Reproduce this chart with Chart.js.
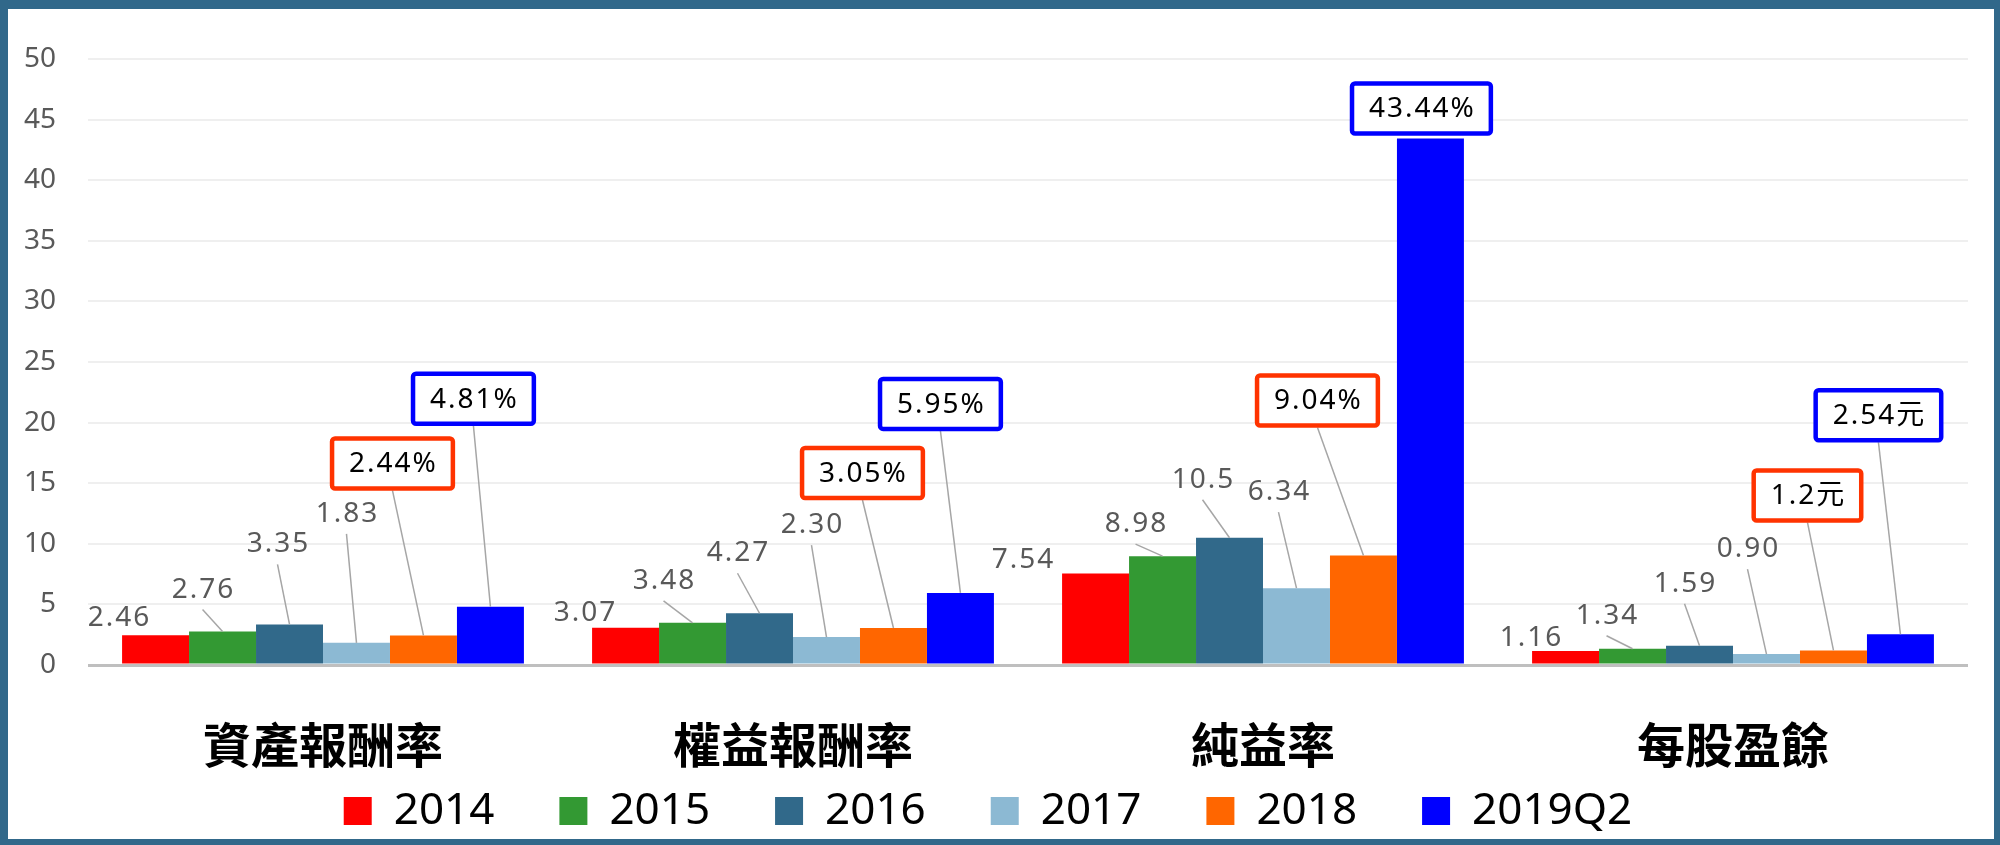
<!DOCTYPE html>
<html>
<head>
<meta charset="utf-8">
<script src="https://cdn.jsdelivr.net/npm/chart.js@4.4.1/dist/chart.umd.min.js"></script>
<style>
  html, body { margin: 0; padding: 0; background: #fff; }
  .frame {
    width: 2000px;
    height: 845px;
    box-sizing: border-box;
    border-style: solid;
    border-color: #31688a;
    border-width: 9px 6px 6px 8px;
  }
  .chart { position: relative; width: 1986px; height: 830px; }
</style>
</head>
<body>
<div class="frame"><div class="chart"><canvas id="chart"></canvas></div></div>
<script>
// Data
const categories = ["資產報酬率", "權益報酬率", "純益率", "每股盈餘"];
const years = ["2014", "2015", "2016", "2017", "2018", "2019Q2"];
const values2014 = [2.46, 3.07, 7.54, 1.16];
const values2015 = [2.76, 3.48, 8.98, 1.34];
const values2016 = [3.35, 4.27, 10.5, 1.59];
const values2017 = [1.83, 2.30, 6.34, 0.90];
const values2018 = [2.44, 3.05, 9.04, 1.2];
const values2019Q2 = [4.81, 5.95, 43.44, 2.54];

// Label texts shown above the bars
const text2014 = ["2.46", "3.07", "7.54", "1.16"];
const text2015 = ["2.76", "3.48", "8.98", "1.34"];
const text2016 = ["3.35", "4.27", "10.5", "1.59"];
const text2017 = ["1.83", "2.30", "6.34", "0.90"];
const text2018 = ["2.44%", "3.05%", "9.04%", "1.2元"];
const text2019Q2 = ["4.81%", "5.95%", "43.44%", "2.54元"];

// Y axis
const yMin = 0;
const yMax = 50;
const yStep = 5;

// Style
const colors = ["#ff0000", "#339933", "#31698a", "#8cb9d3", "#ff6600", "#0000ff"];
const boxColors = [null, null, null, null, "#ff3300", "#0000ff"];
const numFont = '"Noto Sans", "Noto Sans CJK TC", sans-serif';

// where each label sits, relative to the top of its bar (px)
const labelOffsets = [
    [[-37, -18], [-41, -16], [-73, -15], [-35, -14]],
    [[-20, -43], [-29, -43], [-27, -33], [-26, -34]],
    [[-12, -81], [-22, -61], [-27, -59], [-15, -63]],
    [[-10, -130], [-15, -113], [-18, -97], [-19, -106]],
    [[-31, -172], [-31, -155], [-46, -155], [-26, -155]],
    [[-17, -208], [-20, -189], [-9, -30], [-22, -219]]
];

const seriesValues = [values2014, values2015, values2016, values2017, values2018, values2019Q2];
const seriesText = [text2014, text2015, text2016, text2017, text2018, text2019Q2];

// Plugin: value labels with leader lines and boxes
const valueLabels = {
    id: "valueLabels",
    afterDatasetsDraw(chart) {
        const ctx = chart.ctx;
        ctx.save();
        chart.data.datasets.forEach((ds, i) => {
            const meta = chart.getDatasetMeta(i);
            meta.data.forEach((bar, j) => {
                const [dx, dy] = labelOffsets[i][j];
                const cx = bar.x + dx;
                const cy = bar.y + dy;
                const text = seriesText[i][j];
                const boxColor = boxColors[i];

                ctx.font = `28px ${numFont}`;
                ctx.letterSpacing = "2px";
                const w = ctx.measureText(text).width;

                // leader line
                let startY = boxColor ? cy + 27 : cy + 21;
                if (bar.y - startY > 8) {
                    ctx.strokeStyle = "#a6a6a6";
                    ctx.lineWidth = 1.5;
                    ctx.beginPath();
                    ctx.moveTo(cx, startY);
                    ctx.lineTo(bar.x, bar.y);
                    ctx.stroke();
                }

                if (boxColor) {
                    const bw = w + 32;
                    const bh = 50;
                    ctx.fillStyle = "#ffffff";
                    ctx.strokeStyle = boxColor;
                    ctx.lineWidth = 4.5;
                    ctx.beginPath();
                    ctx.roundRect(cx - bw / 2, cy - bh / 2, bw, bh, 3);
                    ctx.fill();
                    ctx.stroke();
                    ctx.fillStyle = "#000000";
                } else {
                    ctx.fillStyle = "#595959";
                }
                ctx.textAlign = "center";
                ctx.textBaseline = "middle";
                ctx.fillText(text, cx + 1, cy + 1);
            });
        });
        ctx.restore();
    }
};

// Chart
const datasets = years.map((year, i) => ({
    label: year,
    data: seriesValues[i],
    backgroundColor: colors[i],
    borderWidth: 0,
    barPercentage: 1.0,
    categoryPercentage: 0.855
}));

new Chart(document.querySelector("#chart"), {
    type: "bar",
    data: {
        labels: categories,
        datasets: datasets
    },
    options: {
        responsive: true,
        maintainAspectRatio: false,
        animation: false,
        layout: {
            padding: {top: 50, right: 26, bottom: -4, left: 0}
        },
        plugins: {
            tooltip: {enabled: false},
            legend: {
                position: "bottom",
                labels: {
                    boxWidth: 28,
                    boxHeight: 28,
                    padding: 65,
                    color: "#000000",
                    font: {family: numFont, size: 44}
                }
            }
        },
        scales: {
            x: {
                grid: {display: false},
                border: {display: false},
                ticks: {
                    color: "#000000",
                    padding: 43,
                    font: {family: '"Noto Sans CJK TC", sans-serif', size: 48, weight: "bold"}
                },
                afterFit: (scale) => {
                    // the legend's padding overlaps this band, so keep labels unclipped
                    scale.height = 59;
                    scale._computeLabelArea = () => undefined;
                }
            },
            y: {
                min: yMin,
                max: yMax,
                border: {display: false},
                grid: {
                    drawTicks: false,
                    color: (c) => c.tick.value === 0 ? "#bfbfbf" : "#efefef",
                    lineWidth: (c) => c.tick.value === 0 ? 3 : 2
                },
                ticks: {
                    stepSize: yStep,
                    padding: 32,
                    color: "#595959",
                    font: {family: numFont, size: 28}
                },
                afterFit: (scale) => { scale.width = 80; }
            }
        }
    },
    plugins: [valueLabels]
});
</script>
</body>
</html>
